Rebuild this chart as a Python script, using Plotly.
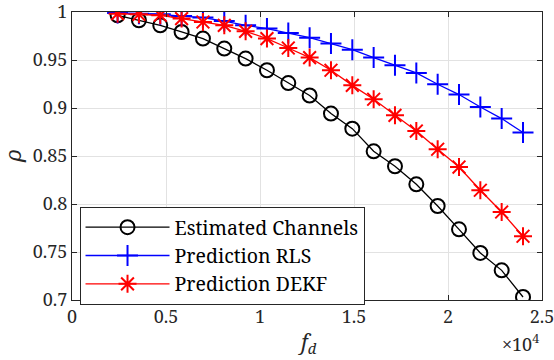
import plotly.graph_objects as go

fd = [2425, 3560, 4695, 5830, 6965, 8100, 9235, 10370, 11505, 12640,
      13775, 14910, 16045, 17180, 18315, 19450, 20585, 21720, 22855, 23990]

rho_est = [0.9966, 0.9914, 0.9861, 0.9792, 0.9723, 0.9619, 0.9515, 0.9393, 0.9260, 0.9130,
           0.8942, 0.8785, 0.8549, 0.8393, 0.8205, 0.7979, 0.7736, 0.7490, 0.7309, 0.7031]
rho_rls = [0.9990, 0.9983, 0.9976, 0.9958, 0.9942, 0.9906, 0.9861, 0.9827, 0.9781, 0.9733,
           0.9671, 0.9608, 0.9525, 0.9445, 0.9365, 0.9247, 0.9140, 0.9010, 0.8890, 0.8744]
rho_dekf = [0.9983, 0.9976, 0.9966, 0.9931, 0.9896, 0.9861, 0.9799, 0.9723, 0.9625, 0.9525,
            0.9393, 0.9236, 0.9091, 0.8924, 0.8760, 0.8570, 0.8385, 0.8143, 0.7917, 0.7664]

series_names = ["Estimated Channels", "Prediction RLS", "Prediction DEKF"]

x_tickvals = [0, 5000, 10000, 15000, 20000, 25000]
x_ticktext = ["0", "0.5", "1", "1.5", "2", "2.5"]
y_tickvals = [0.7, 0.75, 0.8, 0.85, 0.9, 0.95, 1.0]
y_ticktext = ["0.7", "0.75", "0.8", "0.85", "0.9", "0.95", "1"]

FONT = "Noto Serif"
AX = "#262626"

fig = go.Figure()
fig.add_trace(go.Scatter(
    x=fd, y=rho_est, name=series_names[0], mode="lines+markers", legendgroup="a",
    line=dict(color="black", width=1.3),
    marker=dict(symbol="circle-open", size=14, color="black", line=dict(width=2, color="black"))))
fig.add_trace(go.Scatter(
    x=fd, y=rho_rls, name=series_names[1], mode="lines+markers", legendgroup="b",
    line=dict(color="#0000ff", width=1.3),
    marker=dict(symbol="cross-thin-open", size=15, color="#0000ff", line=dict(width=2, color="#0000ff"))))
fig.add_trace(go.Scatter(
    x=fd, y=rho_dekf, name=series_names[2], mode="lines+markers", legendgroup="c",
    line=dict(color="#ff0000", width=1.3),
    marker=dict(symbol="asterisk-open", size=15, color="#ff0000", line=dict(width=2, color="#ff0000"))))

axis_common = dict(showline=True, linecolor=AX, linewidth=1, mirror="ticks",
                   ticks="inside", ticklen=5, tickcolor=AX, showgrid=True,
                   gridcolor="#e2e2e2", gridwidth=1, zeroline=False, automargin=False,
                   ticklabeloverflow="allow",
                   tickfont=dict(family=FONT, size=18, color=AX))

fig.update_xaxes(range=[0, 25000], tickvals=x_tickvals, ticktext=x_ticktext, **axis_common)
fig.update_yaxes(range=[0.7, 1.0], tickvals=y_tickvals, ticktext=y_ticktext, **axis_common)

fig.update_layout(
    width=554, height=360,
    margin=dict(l=72, r=12, t=12, b=60, autoexpand=False),
    paper_bgcolor="white", plot_bgcolor="white",
    font=dict(family=FONT, color="black"),
    legend=dict(x=0.016, y=0.323, xanchor="left", yanchor="top",
                bgcolor="white", bordercolor=AX, borderwidth=1,
                font=dict(family=FONT, size=19.5, color="black"),
                itemwidth=84, tracegroupgap=0),
    annotations=[
        dict(text="<i>f</i><sub><i>d</i></sub>", xref="paper", yref="paper",
             x=0.5, y=-0.15, xanchor="center", yanchor="middle", showarrow=False,
             font=dict(family=FONT, size=21, color=AX)),
        dict(text="×10<sup>4</sup>", xref="paper", yref="paper",
             x=0.955, y=-0.15, xanchor="center", yanchor="middle", showarrow=False,
             font=dict(family=FONT, size=18, color=AX)),
        dict(text="<i>ρ</i>", xref="paper", yref="paper",
             x=-0.125, y=0.5, xanchor="center", yanchor="middle", showarrow=False,
             textangle=-90, font=dict(family=FONT, size=21, color=AX)),
    ],
)

fig.write_html("out.html", post_script="document.body.style.margin='0';",
               config={"displayModeBar": False})
